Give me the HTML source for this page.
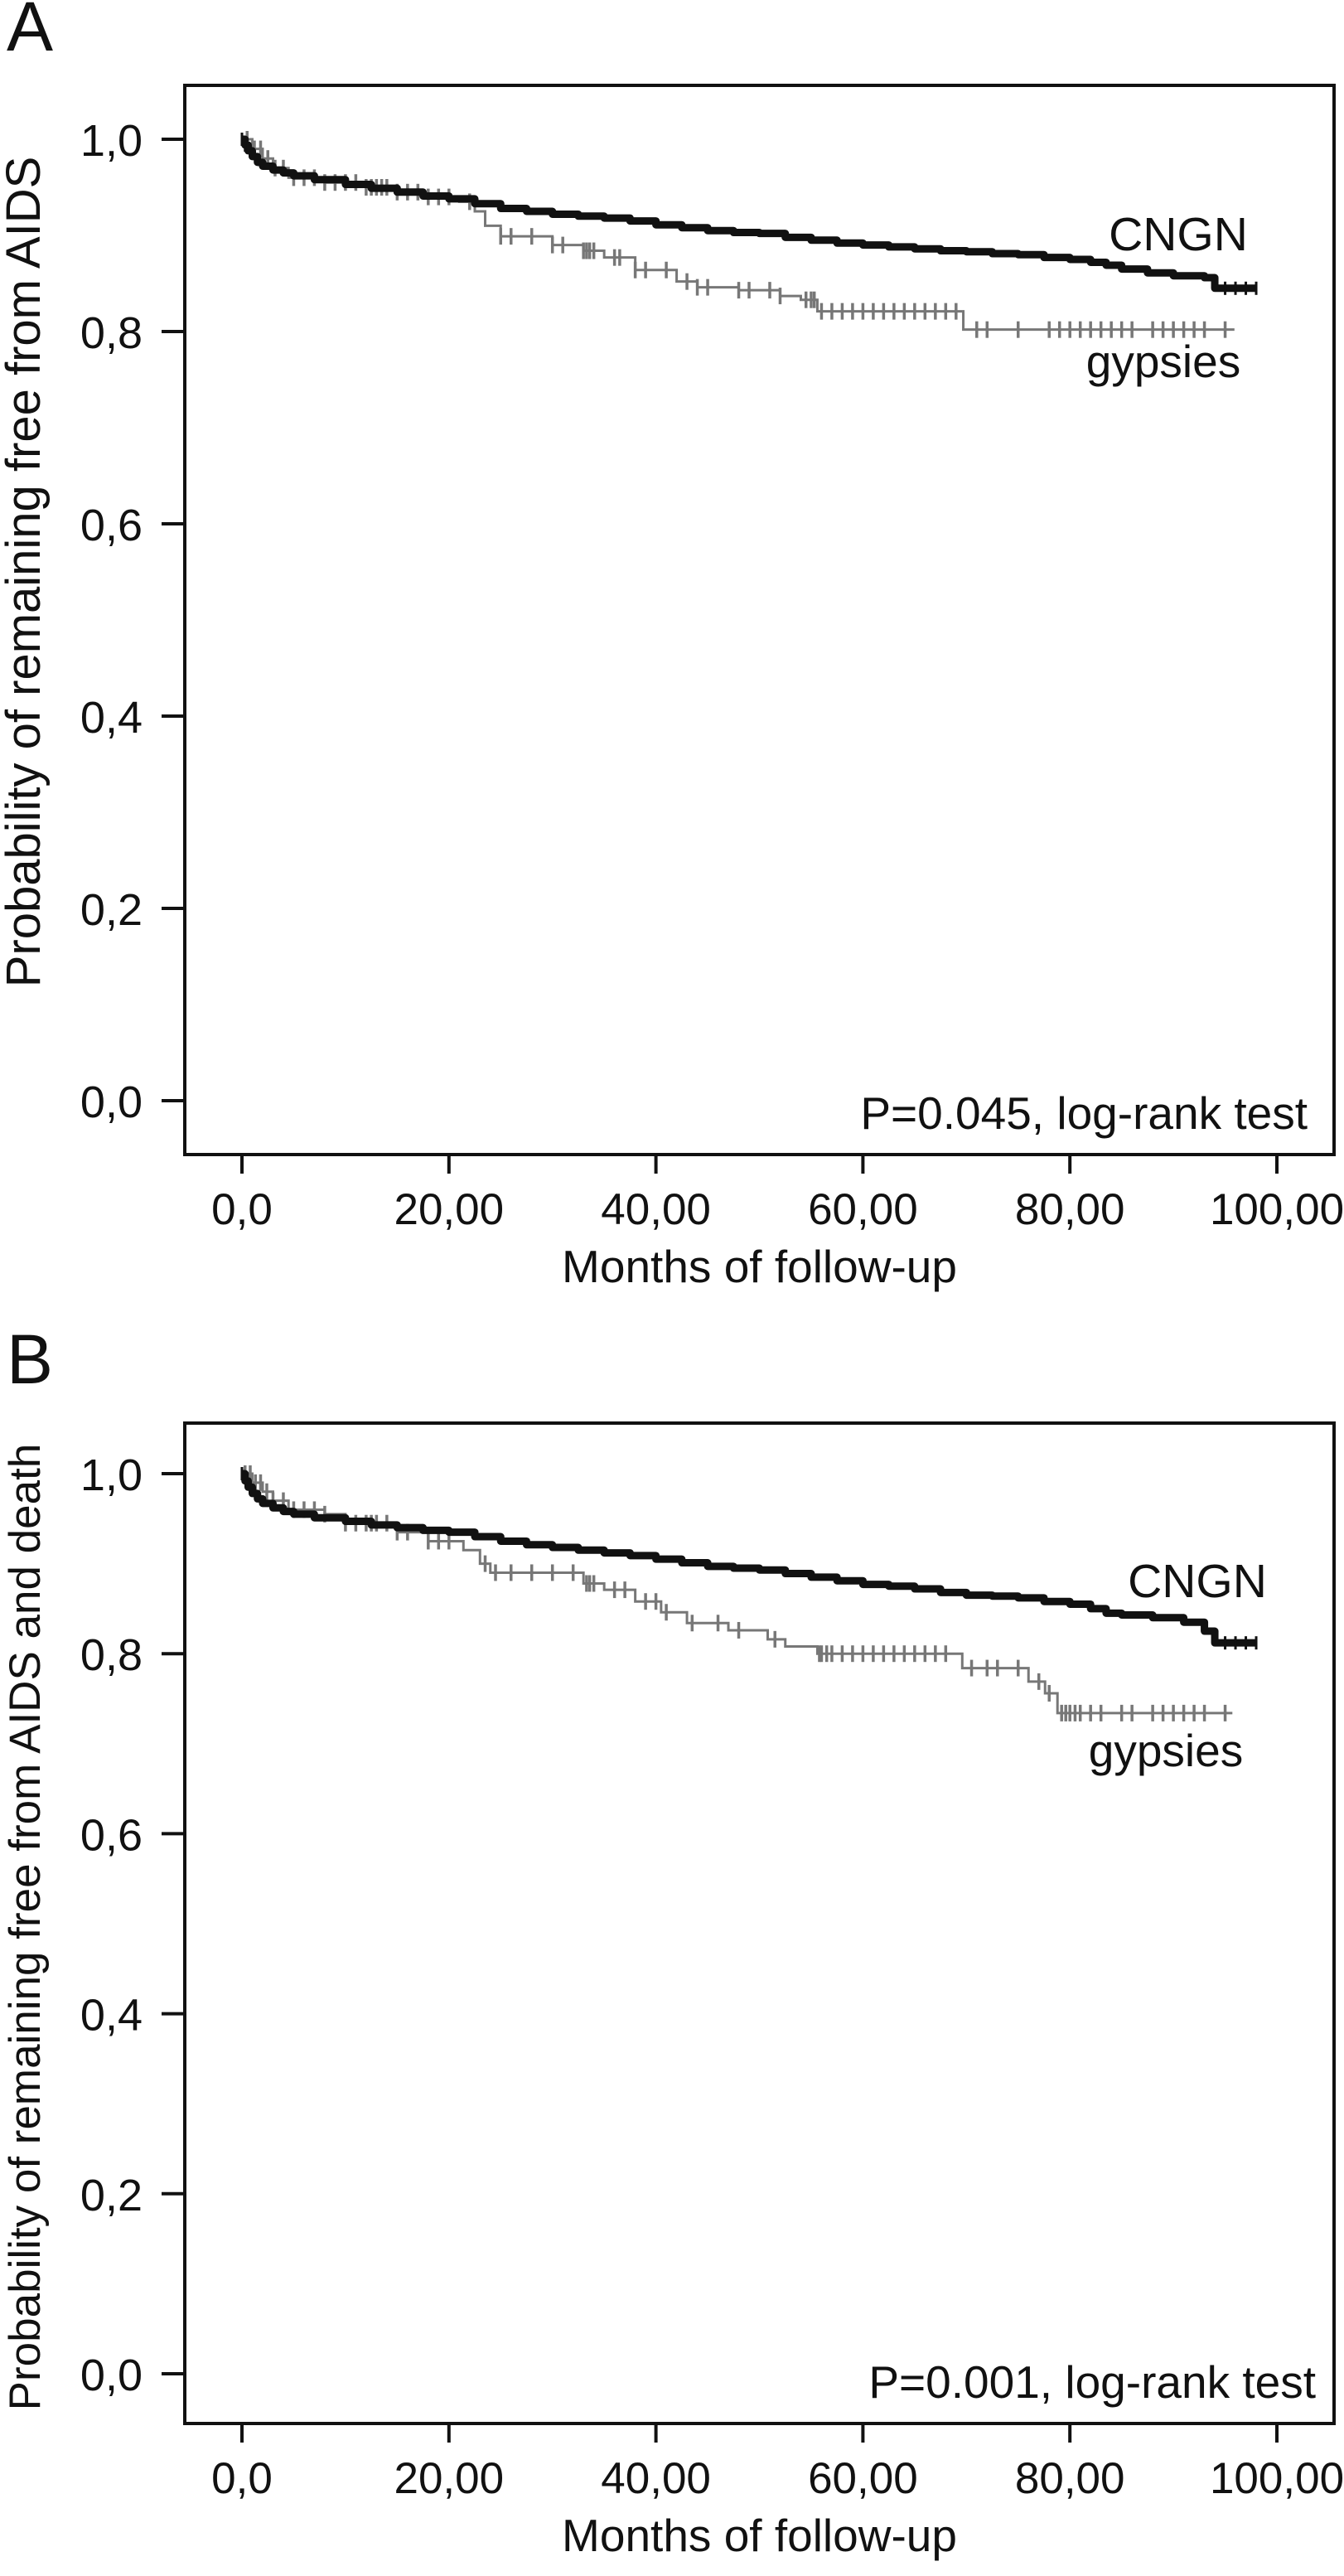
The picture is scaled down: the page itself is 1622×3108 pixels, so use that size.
<!DOCTYPE html>
<html><head><meta charset="utf-8"><style>
html,body{margin:0;padding:0;background:#fff}
svg{display:block}
text{font-family:"Liberation Sans",Arial,sans-serif;fill:#111}
</style></head><body>
<svg id="fig" width="1622" height="3108" viewBox="0 0 1622 3108" xmlns="http://www.w3.org/2000/svg"></svg>
<script>
// ---- data ----
const xTickValues = [0, 20, 40, 60, 80, 100];
const xTickLabels = ["0,0", "20,00", "40,00", "60,00", "80,00", "100,00"];
const yTickValues = [0, 0.2, 0.4, 0.6, 0.8, 1.0];
const yTickLabels = ["0,0", "0,2", "0,4", "0,6", "0,8", "1,0"];

// Panel A
const aCngnTimes = [0, 0.3, 0.6, 1, 1.5, 2, 3, 4, 5, 7, 10, 12.5, 15, 17.5, 20, 22.5, 25, 27.5, 30, 32.5, 35, 37.5, 40, 42.5, 45, 47.5, 50, 52.5, 55, 57.5, 60, 62.5, 65, 67.5, 70, 72.5, 75, 77.5, 80, 82, 83.5, 85, 87.5, 90, 93, 94, 98];
const aCngnSurv  = [1.0, 0.994, 0.988, 0.982, 0.976, 0.972, 0.968, 0.965, 0.962, 0.958, 0.953, 0.949, 0.945, 0.941, 0.938, 0.933, 0.928, 0.925, 0.922, 0.92, 0.918, 0.915, 0.911, 0.908, 0.905, 0.903, 0.902, 0.898, 0.895, 0.892, 0.89, 0.888, 0.886, 0.884, 0.883, 0.881, 0.88, 0.877, 0.875, 0.872, 0.869, 0.865, 0.861, 0.858, 0.856, 0.845, 0.845];
const aGypTimes = [0, 1, 2, 3, 4.5, 8, 12, 15, 18, 21, 22.5, 23.5, 25, 30, 33, 35, 38, 42, 44, 48, 52, 54, 55.6, 69.7, 95.9];
const aGypSurv  = [1.0, 0.99, 0.98, 0.97, 0.96, 0.955, 0.95, 0.945, 0.94, 0.935, 0.925, 0.91, 0.899, 0.89, 0.884, 0.877, 0.864, 0.852, 0.846, 0.843, 0.837, 0.833, 0.821, 0.802, 0.802];
const aGypCensor = [0.5,1.2,1.8,2.5,3.2,4,5,6,7,8,9,10,11,12,12.5,13,13.5,14,15,16,17,18,19,20,22,25,26,28,30,31,33,33.3,33.6,34,36,36.5,38,39,41,43,44,45,48,49,51,52,54.5,55,55.3,56,57,58,59,60,61,62,63,64,65,66,67,68,69,71,72,75,78,79,80,81,82,83,84,85,86,88,89,90,91,92,93,95];
const aCngnCensor = [0, 0.3, 95, 96, 97, 98];

// Panel B
const bCngnTimes = [0, 0.3, 0.6, 1, 1.5, 2, 3, 4, 5, 7, 10, 12.5, 15, 17.5, 20, 22.5, 25, 27.5, 30, 32.5, 35, 37.5, 40, 42.5, 45, 47.5, 50, 52.5, 55, 57.5, 60, 62.5, 65, 67.5, 70, 72.5, 75, 77.5, 80, 82, 83.5, 85, 88, 91, 93, 94, 98];
const bCngnSurv  = [1.0, 0.992, 0.985, 0.978, 0.972, 0.967, 0.962, 0.958, 0.955, 0.951, 0.947, 0.943, 0.94, 0.937, 0.935, 0.93, 0.925, 0.921, 0.918, 0.915, 0.912, 0.909, 0.905, 0.901, 0.897, 0.895, 0.893, 0.889, 0.885, 0.881, 0.877, 0.875, 0.872, 0.868, 0.865, 0.864, 0.862, 0.858, 0.855, 0.85, 0.845, 0.843, 0.84, 0.835, 0.825, 0.812, 0.812];
const bGypTimes = [0, 1, 2, 3, 4.5, 8, 10, 15, 18, 21.4, 23, 24, 33, 35, 38, 40.5, 43, 47, 50.8, 52.5, 55.6, 69.6, 76, 77.6, 78.8, 95.7];
const bGypSurv  = [1.0, 0.99, 0.98, 0.97, 0.96, 0.955, 0.945, 0.935, 0.925, 0.915, 0.9, 0.89, 0.878, 0.871, 0.858, 0.846, 0.834, 0.826, 0.816, 0.808, 0.8, 0.784, 0.769, 0.756, 0.734, 0.734];
const bGypCensor = [0.3,0.8,1.3,1.8,2.4,3,4,5,6,7,8,10,11,12,12.5,13,14,15,16,18,19,20,23.5,24.5,26,28,30,32,33.3,33.6,34,36,37,39,40,41,43.5,46,48,51.5,55.8,56,56.5,57,58,59,60,61,62,63,64,65,66,67,68,70.5,72,73,75,77,78,79.2,79.6,80,80.5,81,82,83,85,86,88,89,90,91,92,93,95];
const bCngnCensor = [0, 95, 96, 97, 98];

const panels = [
  {id:"a", letter:"A", letterY:61, top:103, bottom:1393, y1:168, y0:1328, tickLblY:1477, xTitleY:1547,
   yTitle:"Probability of remaining free from AIDS", yTitleSize:58, yTitleC:690, pText:"P=0.045, log-rank test", pY:1362, pX:1578,
   cngnY:302, cngnX:1422, gypY:455, gypX:1404,
   cT:aCngnTimes, cS:aCngnSurv, gT:aGypTimes, gS:aGypSurv, gC:aGypCensor, cC:aCngnCensor},
  {id:"b", letter:"B", letterY:1669, top:1717, bottom:2924, y1:1778, y0:2864, tickLblY:3008, xTitleY:3078,
   yTitle:"Probability of remaining free from AIDS and death", yTitleSize:53, yTitleC:2325, pText:"P=0.001, log-rank test", pY:2893, pX:1588,
   cngnY:1927, cngnX:1445, gypY:2131, gypX:1407,
   cT:bCngnTimes, cS:bCngnSurv, gT:bGypTimes, gS:bGypSurv, gC:bGypCensor, cC:bCngnCensor}
];

const NS = "http://www.w3.org/2000/svg";
const svg = document.getElementById("fig");
const LEFT = 223, RIGHT = 1610, X0 = 292, X100 = 1541;
function xs(t){ return X0 + (X100 - X0) * t / 100; }
function mk(tag, attrs, parent){
  const e = document.createElementNS(NS, tag);
  for (const k in attrs) e.setAttribute(k, attrs[k]);
  (parent || svg).appendChild(e);
  return e;
}
function stepAt(times, surv, t){
  let v = surv[0];
  for (let i = 0; i < times.length; i++) if (times[i] <= t) v = surv[i];
  return v;
}
function stepPath(times, surv, ys){
  let d = "M" + xs(times[0]) + "," + ys(surv[0]);
  for (let i = 1; i < times.length; i++){
    d += " H" + xs(times[i]) + " V" + ys(surv[i]);
  }
  return d;
}

panels.forEach(p => {
  const ys = v => p.y0 + (p.y1 - p.y0) * v;
  const g = mk("g", {});
  
  

  const L = mk("text", {x:8, y:p.letterY, "font-size":84}, g);
  L.textContent = p.letter;
  
  

  const box = mk("rect", {x:LEFT, y:p.top, width:RIGHT-LEFT, height:p.bottom-p.top, fill:"none", stroke:"#111", "stroke-width":4}, g);
  
  

  yTickValues.forEach((v, i) => {
    const tk = mk("line", {x1:195, x2:LEFT, y1:ys(v), y2:ys(v), stroke:"#111", "stroke-width":4}, g);
    
    
    const t = mk("text", {x:172, y:ys(v)+20, "font-size":54, "text-anchor":"end"}, g);
    t.textContent = yTickLabels[i];
    
    
  });
  xTickValues.forEach((v, i) => {
    const tk = mk("line", {x1:xs(v), x2:xs(v), y1:p.bottom, y2:p.bottom+23, stroke:"#111", "stroke-width":4}, g);
    
    
    const t = mk("text", {x:xs(v), y:p.tickLblY, "font-size":53, "text-anchor":"middle"}, g);
    t.textContent = xTickLabels[i];
    
    
  });

  const xt = mk("text", {x:(LEFT+RIGHT)/2, y:p.xTitleY, "font-size":55, "text-anchor":"middle"}, g);
  xt.textContent = "Months of follow-up";
  
  

  const yt = mk("text", {x:0, y:0, "font-size":p.yTitleSize, "text-anchor":"middle", transform:"translate(48," + p.yTitleC + ") rotate(-90)"}, g);
  yt.textContent = p.yTitle;
  
  

  // gypsies line
  const gp = mk("path", {d:stepPath(p.gT, p.gS, ys), fill:"none", stroke:"#777", "stroke-width":3}, g);
  
  
  p.gC.forEach(t => {
    const y = ys(stepAt(p.gT, p.gS, t));
    const c = mk("line", {x1:xs(t), x2:xs(t), y1:y-10, y2:y+10, stroke:"#777", "stroke-width":3.5}, g);
    
    
  });

  // CNGN line
  const cp = mk("path", {d:stepPath(p.cT, p.cS, ys), fill:"none", stroke:"#111", "stroke-width":9, "stroke-linejoin":"round"}, g);
  
  
  p.cC.forEach(t => {
    const y = ys(stepAt(p.cT, p.cS, t));
    const c = mk("line", {x1:xs(t), x2:xs(t), y1:y-8, y2:y+8, stroke:"#111", "stroke-width":3}, g);
    
    
  });

  const cl = mk("text", {x:p.cngnX, y:p.cngnY, "font-size":57, "text-anchor":"middle"}, g);
  cl.textContent = "CNGN";
  
  
  const gl = mk("text", {x:p.gypX, y:p.gypY, "font-size":55, "text-anchor":"middle"}, g);
  gl.textContent = "gypsies";
  
  

  const pt = mk("text", {x:p.pX, y:p.pY, "font-size":55, "text-anchor":"end"}, g);
  pt.textContent = p.pText;
  
  
});
</script>
</body></html>
